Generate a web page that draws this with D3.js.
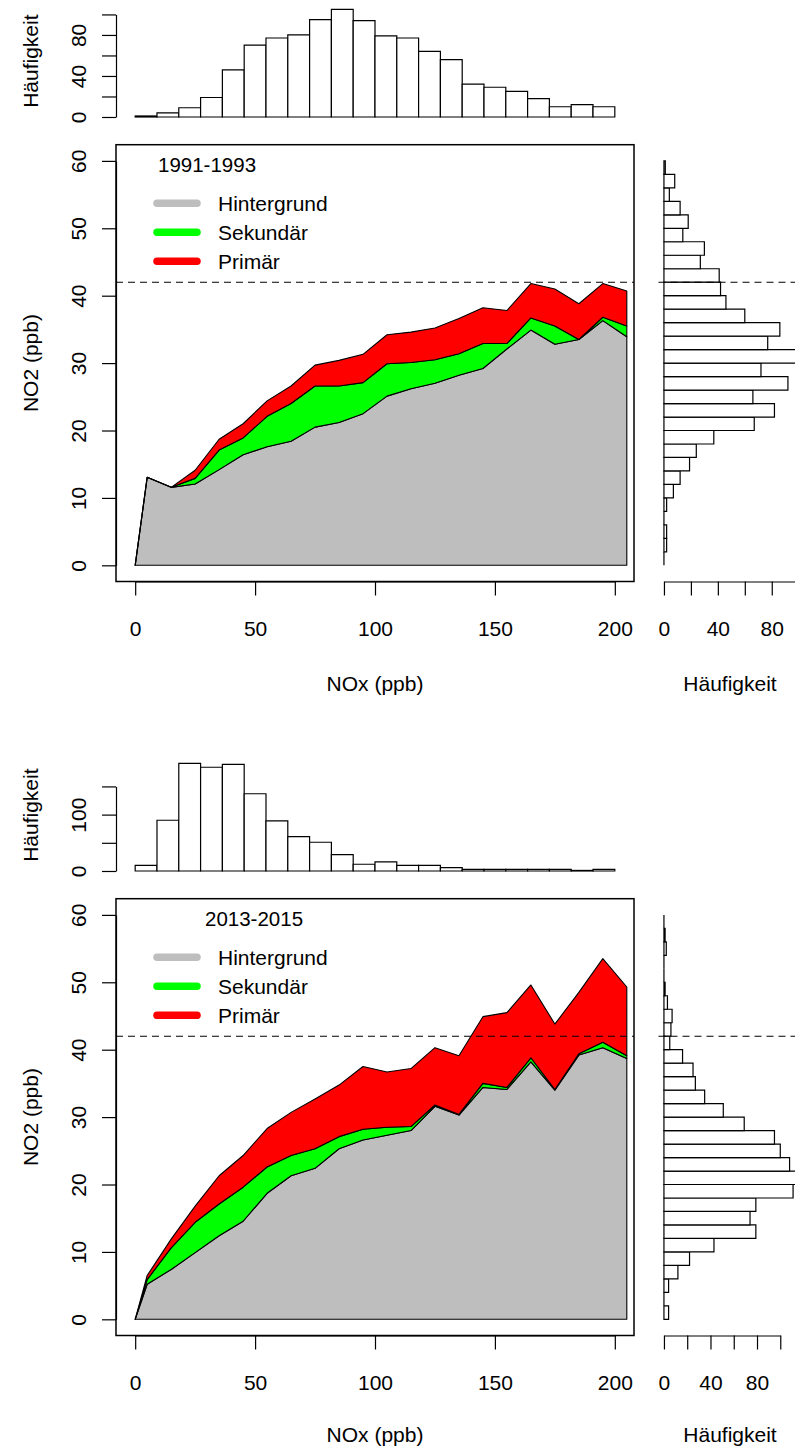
<!DOCTYPE html>
<html><head><meta charset="utf-8">
<script src="https://cdn.jsdelivr.net/npm/d3@7"></script>
<style>
html,body{margin:0;padding:0;background:#fff;}
svg{display:block;background:#fff;}
text{font-family:"Liberation Sans", Arial, Helvetica, sans-serif;fill:#000;}
</style>
</head><body>
<svg id="chart" width="795" height="1447"></svg>
<script>
// ---------------- data ----------------
const noxPoints = [0,5,15,25,35,45,55,65,75,85,95,105,115,125,135,145,155,165,175,185,195,205];

const hintergrund9193 = [0,13.05,11.57,12.06,14.2,16.4,17.6,18.4,20.5,21.2,22.5,25.1,26.2,27.0,28.2,29.2,32.1,34.9,32.8,33.5,36.3,33.9];
const sekundaer9193   = [0,0,0,0.84,2.9,2.5,4.5,5.6,6.1,5.4,4.6,4.8,3.9,3.5,3.2,3.7,0.8,1.8,2.7,0,0.5,1.6];
const primaer9193     = [0,0,0,1.2,1.6,2.1,2.3,2.6,3.1,3.8,4.2,4.3,4.5,4.7,5.2,5.3,4.9,5.1,5.5,5.3,5.0,5.2];

const hintergrund1315 = [0,5.2,7.4,9.9,12.4,14.55,18.7,21.3,22.4,25.3,26.6,27.3,28.0,31.6,30.3,34.4,34.1,38.2,34.0,39.2,40.3,38.7];
const sekundaer1315   = [0,0.7,3.2,4.5,4.7,5.05,3.9,3.0,2.9,1.8,1.6,1.2,0.6,0.2,0.1,0.6,0.3,0.6,0.1,0.2,0.8,0.4];
const primaer1315     = [0,0.6,1.3,2.4,4.2,4.7,5.7,6.4,7.4,7.65,9.3,8.2,8.6,8.5,8.7,9.9,11.1,10.8,9.7,9.1,12.4,10.2];

const seriesNames  = ["Hintergrund","Sekundär","Primär"];
const seriesColors = ["#bebebe","#00ff00","#ff0000"];

// NOx histogram (22 classes), NO2 histogram (30 classes of 2 ppb, 0..60)
const noxHist9193 = [1,4,9,19,46,70,77,80,95,105,94,79,77,64,56,32,29,25,18,10,12,10];
const no2Hist9193 = [0,2,2,0,2,7,12,19,24,37,67,82,66,92,72,101,77,86,60,46,42,41,27,30,14,18,12,4,8,1];
const noxHist1315 = [10,90,191,184,189,137,89,61,51,29,12,16,10,10,6,3,3,3,3,3,1,3];
const no2Hist1315 = [4,0,4,12,22,43,79,74,79,111,117,108,100,95,69,51,35,27,25,16,5,6,7,3,1,0,0,2,1,0];
const no2BinWidth = 2;

const mainXTicks = [0,50,100,150,200];
const mainYTicks = [0,10,20,30,40,50,60];
const topHistTicks9193 = [0,20,40,60,80,100];
const topHistLabels9193 = [0,40,80];
const topHistTicks1315 = [0,50,100,150];
const topHistLabels1315 = [0,100];
const sideHistTicks = [0,20,40,60,80,100];
const sideHistLabels = [0,40,80];
const limitNO2 = 42;

const panels = [
  {dy:0,   ty:0,  year:"1991-1993", yearX:158, h:hintergrund9193, s:sekundaer9193, p:primaer9193,
   nox:noxHist9193, no2:no2Hist9193, topTicks:topHistTicks9193, topLabels:topHistLabels9193},
  {dy:754, ty:-3, year:"2013-2015", yearX:205, h:hintergrund1315, s:sekundaer1315, p:primaer1315,
   nox:noxHist1315, no2:no2Hist1315, topTicks:topHistTicks1315, topLabels:topHistLabels1315}
];

// ---------------- drawing ----------------
const svg = d3.select("#chart");
const FS = 21;
const LW = 1.2;

const L = 116, R = 634;           // main plot region x
const MT = 144.7, MB = 581.5;     // main plot region y (top panel)
const HT = 5, HB = 121.3;         // top histogram region y
const SL = 658.5, SR = 805.5;     // side histogram region x

const x = d3.scaleLinear().domain([-8, 208]).range([L, R]);

function styleAxis(g){
  g.attr("font-size", FS).attr("font-family", '"Liberation Sans", Arial, sans-serif');
  g.selectAll("line").attr("stroke","#000").attr("stroke-width",LW);
  g.selectAll("path").attr("stroke","#000").attr("stroke-width",LW);
  g.selectAll("text").attr("fill","#000");
}
function rotateLeftLabels(g, off){
  g.selectAll(".tick text")
    .attr("x", null).attr("dy", null)
    .attr("text-anchor","middle")
    .attr("transform", `translate(${-off},0) rotate(-90)`);
}

panels.forEach(P => {
  const dy = P.dy;
  const y = d3.scaleLinear().domain([-2.4, 62.4]).range([MB+dy, MT+dy]);
  const g = svg.append("g");

  // ---- stacked areas ----
  const rows = noxPoints.map((v,i)=>({nox:v, "Hintergrund":P.h[i], "Sekundär":P.s[i], "Primär":P.p[i]}));
  const stacked = d3.stack().keys(seriesNames)(rows);
  const area = d3.area().x(d=>x(d.data.nox)).y0(d=>y(d[0])).y1(d=>y(d[1]));
  g.selectAll("path.layer").data(stacked).join("path")
    .attr("class","layer")
    .attr("d", area)
    .attr("fill",(d,i)=>seriesColors[i])
    .attr("stroke","#000").attr("stroke-width",1.1).attr("stroke-linejoin","round");

  // limit line
  g.append("line").attr("x1",L).attr("x2",R).attr("y1",y(limitNO2)).attr("y2",y(limitNO2))
    .attr("stroke","#000").attr("stroke-width",1.1).attr("stroke-dasharray","7,5");

  // box
  g.append("rect").attr("x",L).attr("y",MT+dy).attr("width",R-L).attr("height",MB-MT)
    .attr("fill","none").attr("stroke","#000").attr("stroke-width",1.5);

  // axes main
  const gx = g.append("g").attr("transform",`translate(0,${MB+dy})`)
    .call(d3.axisBottom(x.copy().domain([0,200]).range([x(0),x(200)])).tickValues(mainXTicks).tickSize(14).tickSizeOuter(0).tickPadding(25.5));
  styleAxis(gx);
  const gy = g.append("g").attr("transform",`translate(${L},0)`)
    .call(d3.axisLeft(y.copy().domain([0,60]).range([y(0),y(60)])).tickValues(mainYTicks).tickSize(14).tickSizeOuter(0));
  styleAxis(gy); rotateLeftLabels(gy, 30);

  // legend
  g.append("text").attr("x",P.yearX).attr("y",y(0)-401+7.5).attr("font-size",FS-0.5).text(P.year);
  seriesNames.forEach((nm,i)=>{
    const yy = y(0) - 362 + i*29;
    g.append("line").attr("x1",157).attr("x2",197).attr("y1",yy).attr("y2",yy)
      .attr("stroke",seriesColors[i]).attr("stroke-width",7.5).attr("stroke-linecap","round");
    g.append("text").attr("x",218).attr("y",yy+7.5).attr("font-size",FS).text(nm);
  });

  // axis titles
  g.append("text").attr("x",(L+R)/2).attr("y",690.5+dy+P.ty).attr("text-anchor","middle").attr("font-size",FS).text("NOx (ppb)");
  g.append("text").attr("transform",`translate(37.5,${(MT+MB)/2+dy}) rotate(-90)`).attr("text-anchor","middle").attr("font-size",FS).text("NO2 (ppb)");

  // ---- top histogram ----
  const nmax = d3.max(P.nox);
  const xb = d3.scaleBand().domain(d3.range(P.nox.length)).range([x(0), x(200)]).padding(0);
  const yh = d3.scaleLinear().domain([-0.04*nmax, 1.04*nmax]).range([HB+dy, HT+dy]);
  g.selectAll("path.nox").data(P.nox).join("path").attr("class","nox")
    .attr("d",(d,i)=>{const x0=xb(i), x1=x0+xb.bandwidth(), y0=yh(0), y1=yh(d); return `M${x0},${y0}V${y1}H${x1}V${y0}Z`;})
    .attr("fill","#fff").attr("stroke","#000").attr("stroke-width",LW);
  const tt = P.topTicks;
  const gh = g.append("g").attr("transform",`translate(${L},0)`)
    .call(d3.axisLeft(yh.copy().domain([0,tt[tt.length-1]]).range([yh(0),yh(tt[tt.length-1])])).tickValues(tt).tickSize(14).tickSizeOuter(0)
      .tickFormat(d=>P.topLabels.includes(d)?d:""));
  styleAxis(gh); rotateLeftLabels(gh, 30);
  g.append("text").attr("transform",`translate(37.5,${(HT+HB)/2-2+dy}) rotate(-90)`).attr("text-anchor","middle").attr("font-size",FS).text("Häufigkeit");

  // ---- side histogram ----
  const smax = d3.max(P.no2);
  const xs = d3.scaleLinear().domain([-0.04*smax, 1.04*smax]).range([SL, SR]);
  g.selectAll("path.no2").data(P.no2).join("path").attr("class","no2")
    .attr("d",(d,i)=>{const y0=y(i*no2BinWidth), y1=y((i+1)*no2BinWidth), x0=xs(0), x1=xs(d); return `M${x0},${y0}H${x1}V${y1}H${x0}Z`;})
    .attr("fill","#fff").attr("stroke","#000").attr("stroke-width",LW);
  g.append("line").attr("x1",SL).attr("x2",SR).attr("y1",y(limitNO2)).attr("y2",y(limitNO2))
    .attr("stroke","#000").attr("stroke-width",1.1).attr("stroke-dasharray","7,5");
  const gs = g.append("g").attr("transform",`translate(0,${MB+dy})`)
    .call(d3.axisBottom(xs.copy().domain([0,100]).range([xs(0),xs(100)])).tickValues(sideHistTicks).tickSize(14).tickSizeOuter(0).tickPadding(25.5)
      .tickFormat(d=>sideHistLabels.includes(d)?d:""));
  styleAxis(gs);
  g.append("text").attr("x",(SL+SR)/2-2).attr("y",690.5+dy+P.ty).attr("text-anchor","middle").attr("font-size",FS).text("Häufigkeit");
});
</script>
</body></html>
